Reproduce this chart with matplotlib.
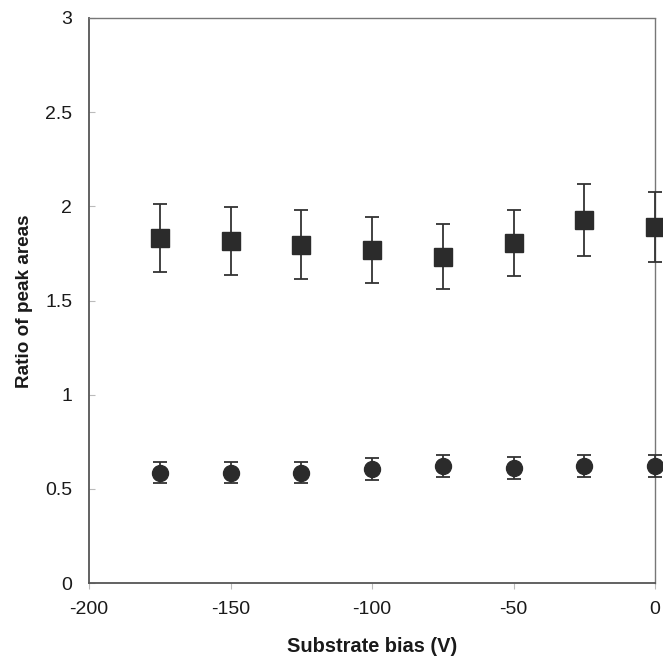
import matplotlib
matplotlib.use("Agg")
import matplotlib.pyplot as plt

plt.rcParams['font.family'] = ['Liberation Sans', 'DejaVu Sans']

# Substrate bias (V)
bias = [-175, -150, -125, -100, -75, -50, -25, 0]

# Upper series (squares): peak-area ratio and error
ratio_sq = [1.832, 1.816, 1.795, 1.768, 1.733, 1.806, 1.928, 1.889]
err_sq = [0.180, 0.182, 0.183, 0.175, 0.172, 0.177, 0.190, 0.187]

# Lower series (circles): peak-area ratio and error
ratio_ci = [0.585, 0.585, 0.585, 0.605, 0.620, 0.610, 0.622, 0.621]
err_ci = [0.056, 0.056, 0.056, 0.057, 0.057, 0.058, 0.058, 0.058]

xticks = [-200, -150, -100, -50, 0]
yticks = [0, 0.5, 1, 1.5, 2, 2.5, 3]
ytick_labels = ['0', '0.5', '1', '1.5', '2', '2.5', '3']

fig = plt.figure(figsize=(6.63, 6.61), dpi=100)
ax = fig.add_axes([89 / 663, 78 / 661, 566 / 663, 565 / 661])

dark = '#2b2b2b'
ax.errorbar(bias, ratio_sq, yerr=err_sq, fmt='s', ms=12.5, color=dark,
            mfc=dark, mec=dark, ecolor='#333333', elinewidth=1.3,
            capsize=4.8, capthick=1.3, clip_on=False, zorder=3)
ax.errorbar(bias, ratio_ci, yerr=err_ci, fmt='o', ms=11.5, color=dark,
            mfc=dark, mec=dark, ecolor='#333333', elinewidth=1.3,
            capsize=4.8, capthick=1.3, clip_on=False, zorder=3)

ax.set_xlim(-200, 0)
ax.set_ylim(0, 3)
ax.set_xticks(xticks)
ax.set_xticklabels([str(v) for v in xticks])
ax.set_yticks(yticks)
ax.set_yticklabels(ytick_labels)

for side in ('left', 'bottom'):
    ax.spines[side].set_color('#555555')
    ax.spines[side].set_linewidth(1.3)
for side in ('top', 'right'):
    ax.spines[side].set_color('#777777')
    ax.spines[side].set_linewidth(1.0)
    ax.spines[side].set_linestyle((0, (1.5, 1)))

ax.tick_params(axis='x', direction='out', length=4, width=0.8, color='#bbbbbb',
               labelsize=14, pad=9, labelcolor='#1a1a1a')
ax.tick_params(axis='y', direction='in', length=4, width=0.8, color='#bbbbbb',
               labelsize=14, pad=12, labelcolor='#1a1a1a')

fig.text(372 / 663, 1 - 647 / 661, 'Substrate bias (V)', ha='center', va='center',
         fontsize=14.4, fontweight='bold', color='#1a1a1a')
fig.text(25 / 663, 1 - 301 / 661, 'Ratio of peak areas', ha='center', va='center',
         rotation=90, fontsize=13.6, fontweight='bold', color='#1a1a1a')

fig.savefig('out.png', dpi=100)
